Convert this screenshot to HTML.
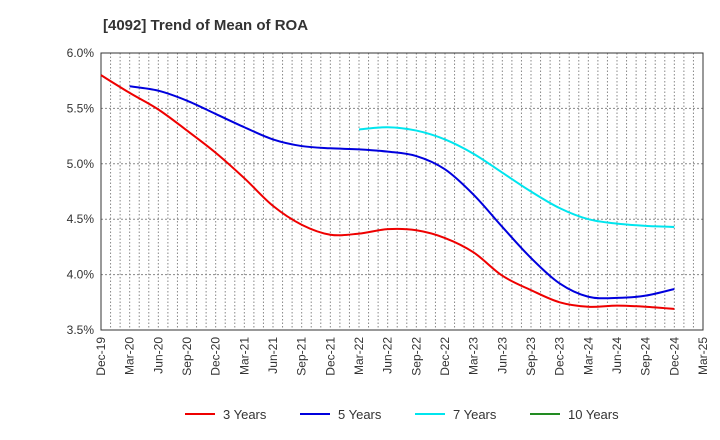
<!DOCTYPE html>
<html><head><meta charset="utf-8"><style>
body{margin:0;background:#fff;font-family:"Liberation Sans",sans-serif;}
svg{display:block}
</style></head><body>
<svg id="c" width="720" height="440">
<text x="103" y="30" font-size="15" font-weight="bold" fill="#333">[4092]  Trend of Mean of ROA</text>
</svg>
<script>
const xLabels=["Dec-19","Mar-20","Jun-20","Sep-20","Dec-20","Mar-21","Jun-21","Sep-21","Dec-21","Mar-22","Jun-22","Sep-22","Dec-22","Mar-23","Jun-23","Sep-23","Dec-23","Mar-24","Jun-24","Sep-24","Dec-24","Mar-25"];
const yTicks=[3.5,4.0,4.5,5.0,5.5,6.0];
const s3=[5.80,5.64,5.49,5.30,5.10,4.87,4.62,4.45,4.36,4.37,4.41,4.40,4.33,4.20,3.99,3.86,3.75,3.71,3.72,3.71,3.69];
const s3Start=0;
const s5=[5.70,5.66,5.57,5.45,5.33,5.22,5.16,5.14,5.13,5.11,5.07,4.95,4.72,4.43,4.15,3.92,3.80,3.79,3.81,3.87];
const s5Start=1;
const s7=[5.31,5.33,5.30,5.22,5.09,4.92,4.75,4.60,4.50,4.46,4.44,4.43];
const s7Start=9;
const s10=[];
const s10Start=0;
const L=101,R=703,T=53,B=330;
const NS="http://www.w3.org/2000/svg";
const svg=document.getElementById('c');
const xq=i=>L+(R-L)*i/(xLabels.length-1);
const y=v=>B-(v-3.5)/(6.0-3.5)*(B-T);
function el(t,a){const e=document.createElementNS(NS,t);for(const k in a)e.setAttribute(k,a[k]);svg.appendChild(e);return e;}
// monthly vertical grid
for(let m=1;m<(xLabels.length-1)*3;m++){const x=L+(R-L)*m/((xLabels.length-1)*3);
const g=el('line',{x1:x,x2:x,y1:T,y2:B,stroke:'#888','stroke-dasharray':'1.5,2','stroke-width':1});

}
yTicks.forEach(v=>{const yy=y(v);
if(v>3.5&&v<6.0){const g=el('line',{x1:L,x2:R,y1:yy,y2:yy,stroke:'#888','stroke-dasharray':'2,2','stroke-width':1});

}
const t=el('text',{x:L-7,y:yy+4,'font-size':12,'text-anchor':'end',fill:'#333'});t.textContent=v.toFixed(1)+'%';

});
const fr=el('rect',{x:L,y:T,width:R-L,height:B-T,fill:'none',stroke:'#333','stroke-width':1});


xLabels.forEach((lb,i)=>{const x=xq(i);
const t=el('text',{x:0,y:0,'font-size':12,'text-anchor':'end',fill:'#333',transform:`translate(${x+4},${B+7}) rotate(-90)`});t.textContent=lb;

});
function path(vals,start){const p=vals.map((v,i)=>[xq(start+i),y(v)]);if(p.length<2)return '';
let d=`M${p[0][0]},${p[0][1]}`;
for(let i=0;i<p.length-1;i++){const p0=p[i-1]||p[i],p1=p[i],p2=p[i+1],p3=p[i+2]||p2;
d+=` C${p1[0]+(p2[0]-p0[0])/6},${p1[1]+(p2[1]-p0[1])/6} ${p2[0]-(p3[0]-p1[0])/6},${p2[1]-(p3[1]-p1[1])/6} ${p2[0]},${p2[1]}`;}
return d;}
[[s3,s3Start,'#ee0000','line-3-years'],[s5,s5Start,'#0000dd','line-5-years'],[s7,s7Start,'#00e5ee','line-7-years'],[s10,s10Start,'#228b22','line-10-years']].forEach(([v,s,c,n])=>{
if(!v.length)return;const e=el('path',{d:path(v,s),fill:'none',stroke:c,'stroke-width':2});

});
const leg=[['3 Years','#ee0000',185],['5 Years','#0000dd',300],['7 Years','#00e5ee',415],['10 Years','#228b22',530]];
leg.forEach(([t,c,x])=>{const l=el('line',{x1:x,x2:x+30,y1:414,y2:414,stroke:c,'stroke-width':2});


const tx=el('text',{x:x+38,y:419,'font-size':13,fill:'#333'});tx.textContent=t;

});
</script>
</body></html>
